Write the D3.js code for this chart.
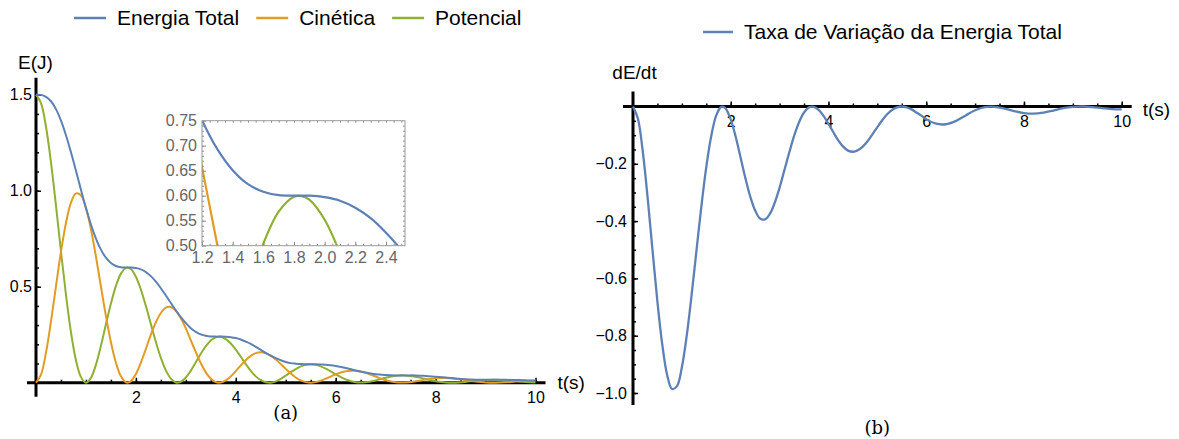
<!DOCTYPE html>
<html>
<head>
<meta charset="utf-8">
<script src="https://cdn.jsdelivr.net/npm/d3@7"></script>
<style>
  body { margin: 0; background: #fff; }
  svg { display: block; font-family: "Liberation Sans", Arial, sans-serif; }
</style>
</head>
<body>
<div id="wrapper"></div>
<script>
// sample times (s)
const times = [0,0.1,0.2,0.3,0.4,0.5,0.6,0.7,0.8,0.9,1.0,1.1,1.2,1.3,1.4,1.5,1.6,1.7,1.8,1.85,
  1.9,2.0,2.1,2.2,2.3,2.4,2.5,2.6,2.7,2.8,2.9,3.0,3.1,3.2,3.3,3.4,3.5,3.6,3.7,3.8,3.9,
  4.0,4.1,4.2,4.3,4.4,4.5,4.6,4.7,4.8,4.9,5.0,5.1,5.2,5.3,5.4,5.5,5.6,5.7,5.8,5.9,6.0,
  6.2,6.4,6.6,6.8,7.0,7.2,7.4,7.6,7.8,8.0,8.2,8.4,8.6,8.8,9.0,9.2,9.4,9.6,9.8,10]

// energia total (J)
const totalEnergy = [1.500,1.499,1.489,1.466,1.425,1.365,1.289,1.200,1.104,1.005,
  0.910,0.824,0.751,0.693,0.651,0.623,0.608,0.601,0.600,0.600,
  0.600,0.597,0.590,0.576,0.555,0.526,0.492,0.454,0.415,0.376,0.341,
  0.310,0.284,0.265,0.252,0.245,0.241,0.240,0.240,0.239,0.237,
  0.233,0.225,0.214,0.202,0.187,0.171,0.155,0.141,0.128,0.117,
  0.108,0.102,0.099,0.097,0.096,0.096,0.096,0.095,0.094,0.091,0.087,
  0.077,0.064,0.053,0.044,0.040,0.038,0.038,0.038,0.035,0.031,
  0.027,0.022,0.018,0.016,0.015,0.015,0.015,0.014,0.013,0.011]

// energia cinetica (J)
const kineticEnergy = [0,0.042,0.157,0.319,0.503,0.682,0.832,0.938,0.986,0.976,
  0.910,0.799,0.657,0.501,0.347,0.211,0.104,0.033,0.002,0.001,
  0.008,0.045,0.105,0.177,0.250,0.315,0.363,0.391,0.394,0.375,0.336,
  0.283,0.221,0.159,0.101,0.054,0.021,0.003,0.001,0.012,0.033,
  0.061,0.090,0.118,0.140,0.154,0.158,0.153,0.140,0.121,0.097,
  0.072,0.048,0.027,0.012,0.003,0.000,0.003,0.010,0.021,0.032,0.044,
  0.060,0.062,0.051,0.032,0.013,0.002,0.001,0.007,0.016,0.023,
  0.025,0.021,0.014,0.006,0.001,0.000,0.002,0.006,0.009,0.010]

// energia potencial (J)
const potentialEnergy = [1.500,1.456,1.333,1.147,0.922,0.684,0.457,0.263,0.117,0.029,
  0.000,0.025,0.094,0.192,0.304,0.412,0.504,0.568,0.598,0.599,
  0.592,0.552,0.485,0.399,0.305,0.212,0.129,0.064,0.021,0.001,0.005,
  0.027,0.063,0.107,0.151,0.190,0.220,0.237,0.239,0.227,0.204,
  0.172,0.135,0.097,0.062,0.033,0.013,0.002,0.000,0.007,0.020,
  0.037,0.055,0.071,0.085,0.093,0.096,0.093,0.085,0.073,0.059,0.044,
  0.017,0.002,0.002,0.012,0.026,0.036,0.038,0.031,0.019,0.008,
  0.001,0.000,0.004,0.010,0.014,0.015,0.013,0.009,0.004,0.001]

// taxa de variacao dE/dt (W)
const energyRate = [0,-0.042,-0.157,-0.319,-0.503,-0.682,-0.832,-0.938,-0.986,-0.976,
  -0.910,-0.799,-0.657,-0.501,-0.347,-0.211,-0.104,-0.033,-0.002,-0.001,
  -0.008,-0.045,-0.105,-0.177,-0.250,-0.315,-0.363,-0.391,-0.394,-0.375,-0.336,
  -0.283,-0.221,-0.159,-0.101,-0.054,-0.021,-0.003,-0.001,-0.012,-0.033,
  -0.061,-0.090,-0.118,-0.140,-0.154,-0.158,-0.153,-0.140,-0.121,-0.097,
  -0.072,-0.048,-0.027,-0.012,-0.003,0,-0.003,-0.010,-0.021,-0.032,-0.044,
  -0.060,-0.062,-0.051,-0.032,-0.013,-0.002,-0.001,-0.007,-0.016,-0.023,
  -0.025,-0.021,-0.014,-0.006,-0.001,0,-0.002,-0.006,-0.009,-0.010]

// tick values
const leftXTicks = [2, 4, 6, 8, 10]
const leftYTicks = [0.5, 1.0, 1.5]
const insetXTicks = [1.2, 1.4, 1.6, 1.8, 2.0, 2.2, 2.4]
const insetYTicks = [0.50, 0.55, 0.60, 0.65, 0.70, 0.75]
const rightXTicks = [2, 4, 6, 8, 10]
const rightYTicks = [-0.2, -0.4, -0.6, -0.8, -1.0]

const seriesNames = ["Energia Total", "Cinética", "Potencial"]
const rateName = "Taxa de Variação da Energia Total"

const colors = ["#5E81B5", "#E19C24", "#8FB032"]

const wrapper = d3.select("#wrapper")
  .append("svg")
    .attr("width", 1179)
    .attr("height", 439)

// helper: style an axis group Mathematica-like
function styleAxis(g, fontSize, color) {
  g.select(".domain").remove()
  g.selectAll(".tick line").attr("stroke", "#000").attr("stroke-width", 1.5)
  g.selectAll(".tick text")
    .attr("fill", color || "#000")
    .style("font-size", fontSize + "px")
    .style("font-family", "'Liberation Sans', Arial, sans-serif")
}

// ---------------- left chart (a) ----------------
const xLeft = d3.scaleLinear().domain([0, 10]).range([36, 535.5])
const yLeft = d3.scaleLinear().domain([0, 1.5]).range([382.7, 94.7])

const left = wrapper.append("g")

// minor ticks
left.append("g")
  .attr("transform", `translate(0,${yLeft(0)})`)
  .call(d3.axisBottom(xLeft).tickValues(d3.range(0.5, 10.01, 0.5)).tickSize(-3).tickFormat(""))
  .call(g => styleAxis(g, 16))
left.append("g")
  .attr("transform", `translate(${xLeft(0)},0)`)
  .call(d3.axisLeft(yLeft).tickValues(d3.range(0.1, 1.51, 0.1)).tickSize(-3).tickFormat(""))
  .call(g => styleAxis(g, 16))

// major ticks + labels
left.append("g")
  .attr("transform", `translate(0,${yLeft(0)})`)
  .call(d3.axisBottom(xLeft).tickValues(leftXTicks).tickSize(-5).tickPadding(9).tickFormat(d3.format("d")))
  .call(g => styleAxis(g, 16))
left.append("g")
  .attr("transform", `translate(${xLeft(0)},0)`)
  .call(d3.axisLeft(yLeft).tickValues(leftYTicks).tickSize(-5).tickPadding(4).tickFormat(d3.format(".1f")))
  .call(g => styleAxis(g, 16))

// thick axis lines
left.append("line")
  .attr("x1", xLeft(0) - 9).attr("x2", xLeft(10) + 10)
  .attr("y1", yLeft(0)).attr("y2", yLeft(0))
  .attr("stroke", "#000").attr("stroke-width", 3)
left.append("line")
  .attr("x1", xLeft(0)).attr("x2", xLeft(0))
  .attr("y1", yLeft(1.5) - 17).attr("y2", yLeft(0) + 14)
  .attr("stroke", "#000").attr("stroke-width", 3)

const leftSeries = [totalEnergy, kineticEnergy, potentialEnergy]

const leftLine = d3.line()
  .x((d, i) => xLeft(times[i]))
  .y(d => yLeft(d))
  .curve(d3.curveCatmullRom)

// draw potential and kinetic under total
;[2, 1, 0].forEach(k => {
  left.append("path")
    .attr("d", leftLine(leftSeries[k]))
    .attr("fill", "none")
    .attr("stroke", colors[k])
    .attr("stroke-width", 2)
})

left.append("text")
  .attr("x", 35.5).attr("y", 62).attr("dy", "0.35em")
  .attr("text-anchor", "middle")
  .style("font-size", "19px")
  .text("E(J)")
left.append("text")
  .attr("x", xLeft(10) + 22).attr("y", yLeft(0)).attr("dy", "0.35em")
  .style("font-size", "19px")
  .text("t(s)")

// legend (a)
let lx = 74
seriesNames.forEach((name, k) => {
  left.append("line")
    .attr("x1", lx).attr("x2", lx + 32)
    .attr("y1", 18).attr("y2", 18)
    .attr("stroke", colors[k]).attr("stroke-width", 2.5)
  const t = left.append("text")
    .attr("x", lx + 43).attr("y", 18).attr("dy", "0.35em")
    .style("font-size", "21px")
    .text(name)
  lx = lx + 43 + t.node().getComputedTextLength() + 17
})

// ---------------- inset ----------------
const xInset = d3.scaleLinear().domain([1.2, 2.524]).range([202, 405])
const yInset = d3.scaleLinear().domain([0.5, 0.75]).range([245.7, 120.7])

const inset = wrapper.append("g")

inset.append("rect")
  .attr("x", xInset(1.2)).attr("y", yInset(0.75))
  .attr("width", xInset(2.524) - xInset(1.2))
  .attr("height", yInset(0.5) - yInset(0.75))
  .attr("fill", "#fff")

wrapper.append("defs").append("clipPath")
  .attr("id", "insetClip")
  .append("rect")
    .attr("x", xInset(1.2)).attr("y", yInset(0.75))
    .attr("width", xInset(2.524) - xInset(1.2))
    .attr("height", yInset(0.5) - yInset(0.75))

const insetLine = d3.line()
  .x((d, i) => xInset(times[i]))
  .y(d => yInset(d))
  .curve(d3.curveCatmullRom)

const insetCurves = inset.append("g").attr("clip-path", "url(#insetClip)")
;[2, 1, 0].forEach(k => {
  insetCurves.append("path")
    .attr("d", insetLine(leftSeries[k]))
    .attr("fill", "none")
    .attr("stroke", colors[k])
    .attr("stroke-width", 2.2)
})

// inset frame ticks
function insetTicks(g, color) {
  g.select(".domain").remove()
  g.selectAll(".tick line").attr("stroke", "#8a8a8a").attr("stroke-width", 1)
  g.selectAll(".tick text")
    .attr("fill", color)
    .style("font-size", "16px")
    .style("font-family", "'Liberation Sans', Arial, sans-serif")
}
const insetXMinor = d3.range(1.25, 2.52, 0.05)
const insetYMinor = d3.range(0.51, 0.75, 0.01)

inset.append("g")
  .attr("transform", `translate(0,${yInset(0.5)})`)
  .call(d3.axisBottom(xInset).tickValues(insetXMinor).tickSize(-2).tickFormat(""))
  .call(g => insetTicks(g, "#666"))
inset.append("g")
  .attr("transform", `translate(0,${yInset(0.75)})`)
  .call(d3.axisTop(xInset).tickValues(insetXMinor).tickSize(-2).tickFormat(""))
  .call(g => insetTicks(g, "#666"))
inset.append("g")
  .attr("transform", `translate(${xInset(1.2)},0)`)
  .call(d3.axisLeft(yInset).tickValues(insetYMinor).tickSize(-2).tickFormat(""))
  .call(g => insetTicks(g, "#666"))
inset.append("g")
  .attr("transform", `translate(${xInset(2.524)},0)`)
  .call(d3.axisRight(yInset).tickValues(insetYMinor).tickSize(-2).tickFormat(""))
  .call(g => insetTicks(g, "#666"))

inset.append("g")
  .attr("transform", `translate(0,${yInset(0.5)})`)
  .call(d3.axisBottom(xInset).tickValues(insetXTicks).tickSize(-4).tickPadding(6).tickFormat(d3.format(".1f")))
  .call(g => insetTicks(g, "#666"))
inset.append("g")
  .attr("transform", `translate(${xInset(1.2)},0)`)
  .call(d3.axisLeft(yInset).tickValues(insetYTicks).tickSize(-4).tickPadding(5).tickFormat(d3.format(".2f")))
  .call(g => insetTicks(g, "#666"))

inset.append("rect")
  .attr("x", xInset(1.2)).attr("y", yInset(0.75))
  .attr("width", xInset(2.524) - xInset(1.2))
  .attr("height", yInset(0.5) - yInset(0.75))
  .attr("fill", "none")
  .attr("stroke", "#9a9a9a")
  .attr("stroke-width", 1)

// ---------------- right chart (b) ----------------
const xRight = d3.scaleLinear().domain([0, 10]).range([633, 1121.7])
const yRight = d3.scaleLinear().domain([-1, 0]).range([393, 106.5])

const right = wrapper.append("g")

right.append("g")
  .attr("transform", `translate(0,${yRight(0)})`)
  .call(d3.axisBottom(xRight).tickValues(d3.range(0.5, 10.01, 0.5)).tickSize(-3).tickFormat(""))
  .call(g => styleAxis(g, 16))
right.append("g")
  .attr("transform", `translate(${xRight(0)},0)`)
  .call(d3.axisLeft(yRight).tickValues(d3.range(-0.05, -1.04, -0.05)).tickSize(-3).tickFormat(""))
  .call(g => styleAxis(g, 16))

right.append("g")
  .attr("transform", `translate(0,${yRight(0)})`)
  .call(d3.axisBottom(xRight).tickValues(rightXTicks).tickSize(-5).tickPadding(9).tickFormat(d3.format("d")))
  .call(g => styleAxis(g, 16))
right.append("g")
  .attr("transform", `translate(${xRight(0)},0)`)
  .call(d3.axisLeft(yRight).tickValues(rightYTicks).tickSize(-5).tickPadding(6).tickFormat(d3.format(".1f")))
  .call(g => styleAxis(g, 16))

right.append("line")
  .attr("x1", xRight(0) - 10).attr("x2", xRight(10) + 10)
  .attr("y1", yRight(0)).attr("y2", yRight(0))
  .attr("stroke", "#000").attr("stroke-width", 3)
right.append("line")
  .attr("x1", xRight(0)).attr("x2", xRight(0))
  .attr("y1", yRight(0) - 15).attr("y2", yRight(-1) + 12)
  .attr("stroke", "#000").attr("stroke-width", 3)

const rightLine = d3.line()
  .x((d, i) => xRight(times[i]))
  .y(d => yRight(d))
  .curve(d3.curveCatmullRom)

right.append("path")
  .attr("d", rightLine(energyRate))
  .attr("fill", "none")
  .attr("stroke", colors[0])
  .attr("stroke-width", 2.3)

right.append("text")
  .attr("x", 634.5).attr("y", 72).attr("dy", "0.35em")
  .attr("text-anchor", "middle")
  .style("font-size", "19px")
  .text("dE/dt")
right.append("text")
  .attr("x", xRight(10) + 21).attr("y", yRight(0) + 3).attr("dy", "0.35em")
  .style("font-size", "19px")
  .text("t(s)")

// legend (b)
right.append("line")
  .attr("x1", 703).attr("x2", 733)
  .attr("y1", 32).attr("y2", 32)
  .attr("stroke", colors[0]).attr("stroke-width", 2.5)
right.append("text")
  .attr("x", 744).attr("y", 32).attr("dy", "0.35em")
  .style("font-size", "21px")
  .text(rateName)

// sub-figure captions
wrapper.append("text")
  .attr("x", (xLeft(0) + xLeft(10)) / 2).attr("y", 413).attr("dy", "0.35em")
  .attr("text-anchor", "middle")
  .style("font-family", "'DejaVu Serif', 'Liberation Serif', serif")
  .style("font-size", "18px")
  .text("(a)")
wrapper.append("text")
  .attr("x", (xRight(0) + xRight(10)) / 2).attr("y", 428).attr("dy", "0.35em")
  .attr("text-anchor", "middle")
  .style("font-family", "'DejaVu Serif', 'Liberation Serif', serif")
  .style("font-size", "18px")
  .text("(b)")
</script>
</body>
</html>
